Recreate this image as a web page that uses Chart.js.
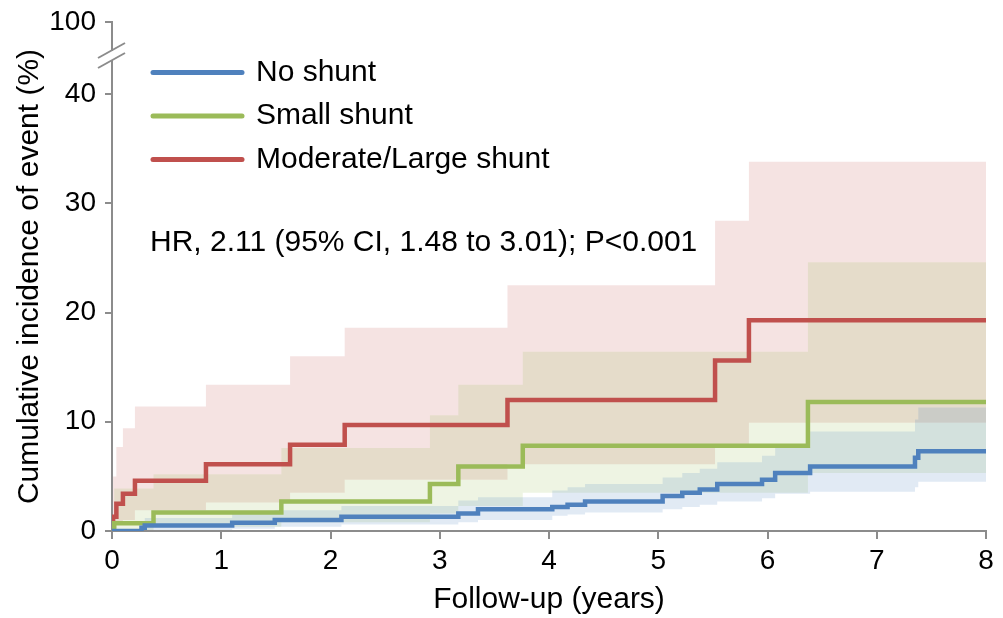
<!DOCTYPE html>
<html>
<head>
<meta charset="utf-8">
<script src="https://cdn.jsdelivr.net/npm/chart.js@4.4.1/dist/chart.umd.min.js"></script>
<style>
  html, body { margin: 0; padding: 0; background: #fff; }
  canvas { display: block; }
</style>
</head>
<body>
<canvas id="chart" width="1003" height="618"></canvas>
<script>
// cumulative incidence (%) by follow-up year
const noShuntT  = [0, 0.27, 0.3, 1.1, 1.49, 2.1, 3.17, 3.35, 4.03, 4.17, 4.33, 5.04, 5.22, 5.38, 5.54, 5.95, 6.07, 6.39, 7.35, 7.38, 8]
const noShuntY  = [0, 0.3, 0.5, 0.75, 1.0, 1.3, 1.6, 2.0, 2.2, 2.4, 2.7, 3.2, 3.5, 3.8, 4.3, 4.7, 5.3, 5.9, 6.7, 7.3, 7.3]
const noShuntUp = [0, 0.9, 1.2, 1.6, 1.9, 2.3, 2.8, 3.1, 3.7, 4.0, 4.3, 4.9, 5.3, 5.7, 6.3, 6.9, 7.7, 9.1, 10.2, 11.3, 11.3]
const noShuntLo = [0, 0.05, 0.1, 0.2, 0.4, 0.6, 0.8, 1.0, 1.4, 1.5, 1.7, 2.0, 2.2, 2.4, 2.7, 3.0, 3.4, 3.6, 4.0, 4.5, 4.5]

const smallT  = [0, 0.02, 0.38, 1.55, 2.91, 3.17, 3.76, 6.37, 8]
const smallY  = [0, 0.7, 1.7, 2.7, 4.3, 5.9, 7.8, 11.8, 11.8]
const smallUp = [0, 3.9, 5.2, 7.6, 10.6, 13.4, 16.4, 24.6, 24.6]
const smallLo = [0, 0.1, 0.4, 0.8, 1.6, 2.3, 3.5, 5.3, 5.3]

const largeT  = [0, 0.01, 0.04, 0.1, 0.21, 0.86, 1.63, 2.13, 3.62, 5.52, 5.83, 8]
const largeY  = [0, 1.3, 2.5, 3.4, 4.6, 6.1, 7.9, 9.7, 12.0, 15.6, 19.3, 19.3]
const largeUp = [0, 5.0, 7.7, 9.4, 11.4, 13.4, 16.0, 18.6, 22.5, 28.4, 33.8, 33.8]
const largeLo = [0, 0.2, 0.6, 1.0, 1.9, 2.6, 3.5, 4.7, 6.1, 7.6, 9.9, 9.9]

const groupNames = ['No shunt', 'Small shunt', 'Moderate/Large shunt']
const xTicks = [0, 1, 2, 3, 4, 5, 6, 7, 8]
const yTicks = [0, 10, 20, 30, 40]
const yTopLabel = '100'
const hrText = 'HR, 2.11 (95% CI, 1.48 to 3.01); P<0.001'

const FONT = "'Liberation Sans', Arial, sans-serif"
const AXIS = '#8c8c8c'
const colors = ['#4f81bd', '#9bbb59', '#c0504d']
const bands = ['rgba(79,129,189,0.17)', 'rgba(155,187,89,0.17)', 'rgba(192,80,77,0.16)']
const yMax = 46.6   // axis is broken above 40, top tick shows 100

const zip = (t, y) => t.map((x, i) => ({x: x, y: y[i]}))

const groups = [
    [noShuntT, noShuntY, noShuntUp, noShuntLo],
    [smallT, smallY, smallUp, smallLo],
    [largeT, largeY, largeUp, largeLo]
]

let datasets = []
groups.forEach((g, i) => {
    // CI band: upper filled down to lower
    datasets.push({data: zip(g[0], g[2]), stepped: 'before', borderWidth: 0, borderColor: 'transparent',
        pointRadius: 0, fill: '+1', backgroundColor: bands[i], order: 2})
    datasets.push({data: zip(g[0], g[3]), stepped: 'before', borderWidth: 0, borderColor: 'transparent',
        pointRadius: 0, fill: false, order: 2})
})
groups.forEach((g, i) => {
    datasets.push({label: groupNames[i], data: zip(g[0], g[1]), stepped: 'before', borderWidth: 4.5,
        borderColor: colors[i], pointRadius: 0, fill: false, order: 0, borderCapStyle: 'butt'})
})

// legend, annotation and axis break
const extras = {
    id: 'extras',
    afterDraw(chart) {
        const ctx = chart.ctx
        const a = chart.chartArea
        ctx.save()
        // axis break
        ctx.fillStyle = '#fff'
        ctx.fillRect(a.left - 4, a.top + 29, 8, 9)
        ctx.strokeStyle = AXIS
        ctx.lineWidth = 2
        for (const dy of [36, 46]) {
            ctx.beginPath()
            ctx.moveTo(a.left - 14, a.top + dy)
            ctx.lineTo(a.left + 13, a.top + dy - 15)
            ctx.stroke()
        }
        // legend
        ctx.font = '30px ' + FONT
        ctx.textBaseline = 'middle'
        ctx.fillStyle = '#000'
        const rows = [50.5, 94, 137.5]
        groupNames.forEach((name, i) => {
            const y = a.top + rows[i]
            ctx.strokeStyle = colors[i]
            ctx.lineWidth = 5
            ctx.lineCap = 'round'
            ctx.beginPath()
            ctx.moveTo(a.left + 41, y)
            ctx.lineTo(a.left + 130, y)
            ctx.stroke()
            ctx.fillText(name, a.left + 144, y)
        })
        ctx.fillText(hrText, a.left + 38, a.top + 221)
        ctx.restore()
    }
}

new Chart(document.getElementById('chart'), {
    type: 'line',
    data: {datasets: datasets},
    plugins: [extras],
    options: {
        responsive: false,
        animation: false,
        layout: {padding: {top: 22, right: 17, left: 0, bottom: 0}},
        plugins: {legend: {display: false}, tooltip: {enabled: false}},
        scales: {
            x: {
                type: 'linear', min: 0, max: 8,
                afterFit: (s) => { s.height = 87; s.paddingLeft = 0; s.paddingRight = 0 },
                afterBuildTicks: (s) => { s.ticks = xTicks.map(v => ({value: v})) },
                grid: {display: true, drawOnChartArea: false, drawTicks: true, tickLength: 8, color: AXIS, lineWidth: 2},
                border: {display: true, color: AXIS, width: 2},
                ticks: {font: {family: FONT, size: 28}, color: '#000', padding: 5, maxRotation: 0},
                title: {display: true, text: 'Follow-up (years)', font: {family: FONT, size: 30}, color: '#000', padding: {top: 0, bottom: 0}}
            },
            y: {
                type: 'linear', min: 0, max: yMax,
                afterFit: (s) => { s.width = 112; s.paddingTop = 0; s.paddingBottom = 0 },
                afterBuildTicks: (s) => { s.ticks = yTicks.concat([yMax]).map(v => ({value: v})) },
                grid: {display: true, drawOnChartArea: false, drawTicks: true, tickLength: 7, color: AXIS, lineWidth: 2},
                border: {display: true, color: AXIS, width: 2},
                ticks: {font: {family: FONT, size: 28}, color: '#000', padding: 9,
                    callback: (v) => v === yMax ? yTopLabel : v},
                title: {display: true, text: 'Cumulative incidence of event (%)', font: {family: FONT, size: 30}, color: '#000', padding: {top: 12, bottom: 0}}
            }
        }
    }
})
</script>
</body>
</html>
